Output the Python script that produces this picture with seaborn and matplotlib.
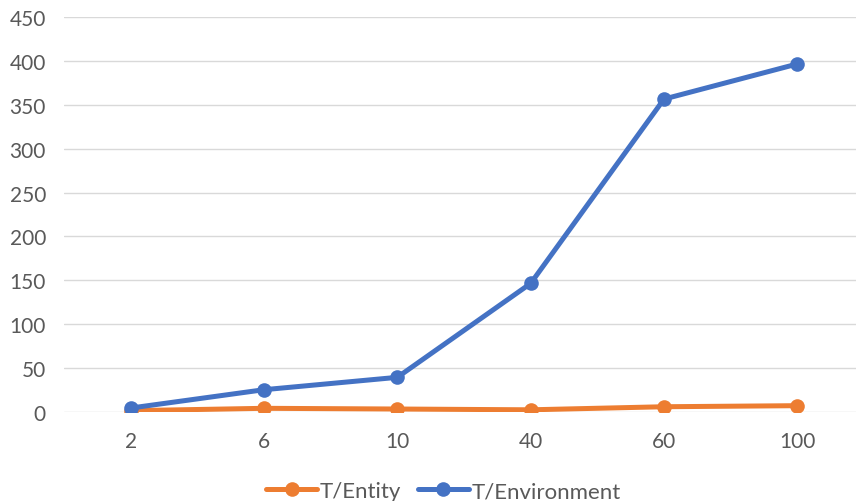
import matplotlib
matplotlib.use("Agg")
import matplotlib.pyplot as plt
import seaborn as sns
import pandas as pd

categories = ["2", "6", "10", "40", "60", "100"]
t_entity = [1.5, 4.2, 3.4, 2.5, 6.0, 7.2]
t_environment = [4.5, 25.4, 39.5, 146.5, 356.5, 396.5]
series_names = ["T/Entity", "T/Environment"]
colors = ["#ED7D31", "#4472C4"]
y_ticks = [0, 50, 100, 150, 200, 250, 300, 350, 400, 450]

df = pd.DataFrame({
    "x": list(range(len(categories))) * 2,
    "value": t_entity + t_environment,
    "series": [series_names[0]] * len(categories) + [series_names[1]] * len(categories),
})

sns.set_theme(style="white")
plt.rcParams["font.family"] = ["Lato", "DejaVu Sans"]

fig = plt.figure(figsize=(8.56, 5.02), dpi=100)
ax = fig.add_axes([64 / 856, 89 / 502, 800 / 856, 395 / 502])

sns.lineplot(data=df, x="x", y="value", hue="series", palette=colors,
             marker="o", markersize=10.5, markeredgewidth=0, linewidth=3.6,
             sort=False, ax=ax, legend=False)

ax.set_xlim(-0.5, len(categories) - 0.5)
ax.set_ylim(0, 450)
ax.set_yticks(y_ticks)
ax.set_xticks(range(len(categories)))
ax.set_xticklabels(categories)
ax.grid(axis="y", color="#D9D9D9", linewidth=1)
ax.set_axisbelow(True)
for s in ax.spines.values():
    s.set_visible(False)
ax.tick_params(axis="both", length=0, labelsize=15, colors="#595959")
ax.tick_params(axis="y", pad=13)
ax.tick_params(axis="x", pad=14)
ax.set_xlabel("")
ax.set_ylabel("")

handles = [plt.Line2D([], [], color=c, linewidth=3.6, marker="o", markersize=10.5,
                      markeredgewidth=0) for c in colors]
fig.legend(handles, series_names, loc="lower center", bbox_to_anchor=(0.518, -0.04),
           ncol=2, frameon=False, fontsize=16, labelcolor="#595959",
           handlelength=2.3, handletextpad=0.12, columnspacing=0.75)

fig.savefig("out.png", dpi=100)
